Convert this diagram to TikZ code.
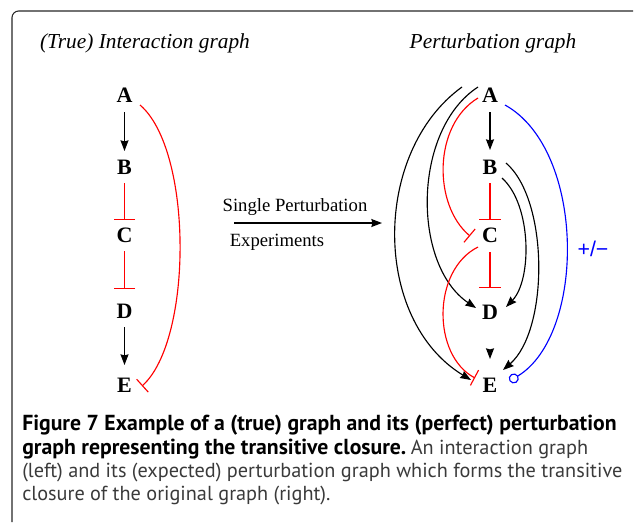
\documentclass[tikz,border=0pt]{standalone}
\usepackage{fontspec}
\setmainfont{Liberation Serif}
\newfontfamily\capfont{PT Sans}
\newfontfamily\lblfont{Liberation Sans}
\usetikzlibrary{arrows.meta,calc}
\definecolor{capgrey}{HTML}{3A3A3A}
\newcommand{\capbold}{\capfont\fontsize{16.3}{16.3}\selectfont\bfseries}
\newcommand{\capreg}{\capfont\fontsize{15.2}{15.2}\selectfont\mdseries\color{capgrey}}
\begin{document}
\begin{tikzpicture}[x=0.75pt,y=-0.75pt,
  vtx/.style={font=\fontsize{16.5}{16.5}\selectfont\bfseries, inner sep=0pt},
  ttl/.style={font=\fontsize{16}{16}\selectfont\itshape, inner sep=0pt},
  txt/.style={font=\fontsize{14}{14}\selectfont, inner sep=0pt},
  act/.style={draw=black,line width=0.85pt,-{Stealth[length=8pt,width=6pt,inset=0.8pt]}},
  inh/.style={draw=red,line width=0.85pt,-{Bar[width=16pt]}},
  inhc/.style={draw=red,line width=0.85pt,-{Bar[width=13pt]}},
  unk/.style={draw=blue,line width=0.85pt,-{Circle[open,length=7.5pt]}},
  captxt/.style={anchor=base west, inner sep=0pt},
  frame/.style={draw=black!85,line width=0.8pt,rounded corners=5}
]
\useasboundingbox (0,0) rectangle (634,522);
\draw[frame] (12,522) -- (12,11) -- (633,11);

% titles
\node[ttl] (t1) at (145,43) {(True) Interaction graph};
\node[ttl] (t2) at (493,43) {Perturbation graph};

% left graph
\node[vtx] (LA) at (124.5,95) {A};
\node[vtx] (LB) at (124.5,167) {B};
\node[vtx] (LC) at (124.5,235) {C};
\node[vtx] (LD) at (124.5,311) {D};
\node[vtx] (LE) at (124.5,385) {E};
\draw[act] ($(LA)+(0,17)$) -- ($(LB)+(0,-16)$);
\draw[inh] ($(LB)+(0,16)$) -- ($(LC)+(0,-15)$);
\draw[inh] ($(LC)+(0,16)$) -- ($(LD)+(0,-22)$);
\draw[act] ($(LD)+(0,16)$) -- ($(LE)+(0,-20)$);
\draw[inhc] ($(LA)+(15.5,10)$) .. controls ($(LA)+(68.5,55)$) and ($(LE)+(68.5,-45)$) .. ($(LE)+(17.5,1)$);

% middle arrow
\node[txt] (sp) at (295,207) {Single Perturbation};
\node[txt] (ex) at (277,242) {Experiments};
\coordinate (m1) at (234,223);
\coordinate (m2) at (382,223);
\draw[act] (m1) -- (m2);

% right graph
\node[vtx] (RA) at (490,95) {A};
\node[vtx] (RB) at (490,167) {B};
\node[vtx] (RC) at (490,235) {C};
\node[vtx] (RD) at (490,312) {D};
\node[vtx] (RE) at (490,385) {E};
\draw[act] ($(RA)+(0,17)$) -- ($(RB)+(0,-17)$);
\draw[inh] ($(RB)+(0,16)$) -- ($(RC)+(0,-15)$);
\draw[inh] ($(RC)+(0,17)$) -- ($(RD)+(0,-24)$);
\draw[act] ($(RD)+(0,41)$) -- ($(RE)+(0,-26)$);

% A -> E (outer), A -> D
\draw[act] ($(RA)+(-28,-8)$) .. controls ($(RA)+(-118,57)$) and ($(RE)+(-118,-65)$) .. ($(RE)+(-19,-5)$);
\draw[act] ($(RA)+(-12,-8)$) .. controls ($(RA)+(-78,35)$) and ($(RD)+(-78,-47)$) .. ($(RD)+(-14,-4)$);
% A -| C, C -| E
\draw[inhc] ($(RA)+(-12,3)$) .. controls ($(RA)+(-57,30)$) and ($(RC)+(-57,-30)$) .. ($(RC)+(-20,1)$);
\draw[inhc] ($(RC)+(-12,12)$) .. controls ($(RC)+(-58,35)$) and ($(RE)+(-58,-30)$) .. ($(RE)+(-15,-7)$);
% B -> D, B -> E
\draw[act] ($(RB)+(12,11)$) .. controls ($(RB)+(42,38)$) and ($(RD)+(42,-32)$) .. ($(RD)+(16,-5)$);
\draw[act] ($(RB)+(16,-4)$) .. controls ($(RB)+(59,33)$) and ($(RE)+(59,-55)$) .. ($(RE)+(13,-15)$);
% A -o E
\draw[unk] ($(RA)+(15,10)$) .. controls ($(RA)+(96,55)$) and ($(RE)+(96,-50)$) .. ($(RE)+(19.5,-4)$);
\node[font=\lblfont\fontsize{16}{16}\selectfont, text=blue, inner sep=0pt] (pm) at (593,249) {+/−};

% caption
\node[captxt] (c1) at (22,430) {\capbold Figure 7 Example of a (true) graph and its (perfect) perturbation};
\node[captxt] (c2) at (22,454) {{\capbold graph representing the transitive closure.} {\capreg An interaction graph}};
\node[captxt] (c3) at (22,477) {\capreg (left) and its (expected) perturbation graph which forms the transitive};
\node[captxt] (c4) at (22,500) {\capreg closure of the original graph (right).};
\end{tikzpicture}
\end{document}
